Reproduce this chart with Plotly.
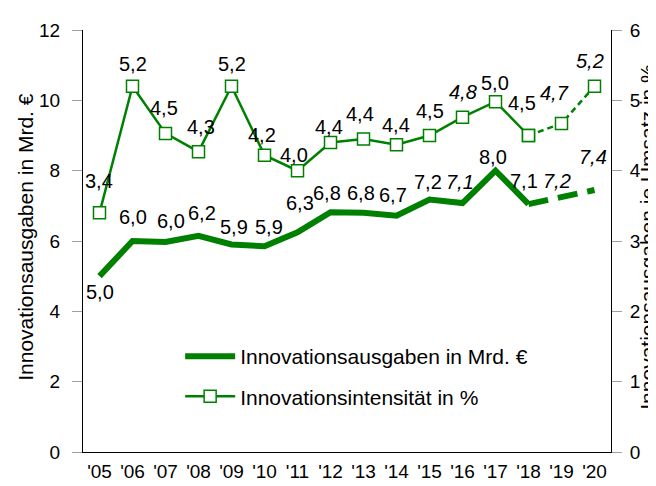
import plotly.graph_objects as go

years = ["'05", "'06", "'07", "'08", "'09", "'10", "'11", "'12", "'13", "'14", "'15", "'16", "'17", "'18", "'19", "'20"]
ausgaben = [5.0, 6.0, 5.97, 6.15, 5.9, 5.85, 6.25, 6.82, 6.8, 6.72, 7.18, 7.08, 8.0, 7.05, 7.25, 7.45]
ausgaben_lbl = ["5,0", "6,0", "6,0", "6,2", "5,9", "5,9", "6,3", "6,8", "6,8", "6,7", "7,2", "7,1", "8,0", "7,1", "7,2", "7,4"]
intens = [3.4, 5.2, 4.53, 4.27, 5.2, 4.22, 4.0, 4.4, 4.45, 4.37, 4.5, 4.76, 4.98, 4.5, 4.67, 5.2]
intens_lbl = ["3,4", "5,2", "4,5", "4,3", "5,2", "4,2", "4,0", "4,4", "4,4", "4,4", "4,5", "4,8", "5,0", "4,5", "4,7", "5,2"]
italic_idx = [11, 14, 15]
last_actual = 13

GREEN = "#008000"
FONT = "Liberation Sans"
FS_TICK = 19
FS_LBL = 20
FS_TXT = 21

# label offsets (px): (xshift, yshift)
aus_off = [(0, -16), (0, 24), (5, 21), (3, 23), (2, 18), (4, 19), (2, 29), (-4, 19), (-3, 20), (-4, 21),
           (-2, 18), (-3, 21), (-3, 14), (-5, 23), (-5, 16), (-2, 33)]
int_off = [(-1, 32), (0, 22), (-2, 25), (2, 25), (0, 22), (-3, 20), (-4, 16), (-2, 16), (-4, 25), (-1, 20),
           (0, 25), (0, 25), (-1, 19), (-7, 33), (-7, 31), (-5, 25)]

fig = go.Figure()

fig.add_trace(go.Scatter(
    x=years[:last_actual + 1], y=ausgaben[:last_actual + 1], mode="lines",
    line=dict(color=GREEN, width=6), name="Innovationsausgaben in Mrd. €",
    legend="legend", yaxis="y"))
fig.add_trace(go.Scatter(
    x=years[last_actual:], y=ausgaben[last_actual:], mode="lines",
    line=dict(color=GREEN, width=6, dash="20px,10px"), showlegend=False, yaxis="y"))
fig.add_trace(go.Scatter(
    x=years[:last_actual + 1], y=intens[:last_actual + 1], mode="lines+markers",
    line=dict(color=GREEN, width=2.5),
    marker=dict(symbol="square", size=12, color="white", line=dict(color=GREEN, width=1.5)),
    name="Innovationsintensität in %", legend="legend2", yaxis="y2"))
fig.add_trace(go.Scatter(
    x=years[last_actual:], y=intens[last_actual:], mode="lines+markers",
    line=dict(color=GREEN, width=2.5, dash="6px,4px"),
    marker=dict(symbol="square", size=12, color="white", line=dict(color=GREEN, width=1.5)),
    showlegend=False, yaxis="y2"))

anns = []
for i, yr in enumerate(years):
    style = "italic" if i in italic_idx else "normal"
    anns.append(dict(x=yr, y=ausgaben[i], xref="x", yref="y", text=ausgaben_lbl[i], showarrow=False,
                     xshift=aus_off[i][0], yshift=aus_off[i][1],
                     font=dict(family=FONT, size=FS_LBL, color="black", style=style)))
    anns.append(dict(x=yr, y=intens[i], xref="x", yref="y2", text=intens_lbl[i], showarrow=False,
                     xshift=int_off[i][0], yshift=int_off[i][1],
                     font=dict(family=FONT, size=FS_LBL, color="black", style=style)))

# axis titles
anns.append(dict(x=-0.108, y=0.51, xref="paper", yref="paper", xanchor="center", yanchor="middle",
                 text="Innovationsausgaben in Mrd. €",
                 textangle=-90, showarrow=False, font=dict(family=FONT, size=FS_TXT, color="black")))
anns.append(dict(x=1.088, y=0.51, xref="paper", yref="paper", xanchor="right", yanchor="middle",
                 xshift=4,
                 text="Innovationsausgaben je Umsatz in %",
                 textangle=-90, showarrow=False, font=dict(family=FONT, size=FS_TXT, color="black")))

fig.update_layout(
    width=656, height=486,
    margin=dict(l=75, r=53, t=17, b=35),
    paper_bgcolor="white", plot_bgcolor="white",
    font=dict(family=FONT, size=FS_TICK, color="black"),
    xaxis=dict(type="category", range=[-0.5, 15.5], showline=True, linecolor="black", linewidth=1,
               ticks="", showgrid=False, tickfont=dict(size=FS_TICK), ticklabelstandoff=2),
    yaxis=dict(range=[0, 12], dtick=2, showline=True, linecolor="black", linewidth=1,
               ticks="outside", ticklen=10, tickcolor="#a0a0a0", showgrid=False, zeroline=False,
               tickfont=dict(size=FS_TICK), ticklabelstandoff=8),
    yaxis2=dict(range=[0, 6], dtick=1, overlaying="y", side="right", showline=True, linecolor="black",
                linewidth=1, ticks="outside", ticklen=10, tickcolor="#a0a0a0", showgrid=False,
                zeroline=False, tickfont=dict(size=FS_TICK), ticklabelstandoff=4),
    legend=dict(x=0.184, y=0.226, xanchor="left", yanchor="middle", bgcolor="rgba(0,0,0,0)",
                itemwidth=50, font=dict(size=FS_TXT)),
    legend2=dict(x=0.184, y=0.131, xanchor="left", yanchor="middle", bgcolor="rgba(0,0,0,0)",
                 itemwidth=50, font=dict(size=FS_TXT)),
    annotations=anns,
)

fig.write_html("out.html")
